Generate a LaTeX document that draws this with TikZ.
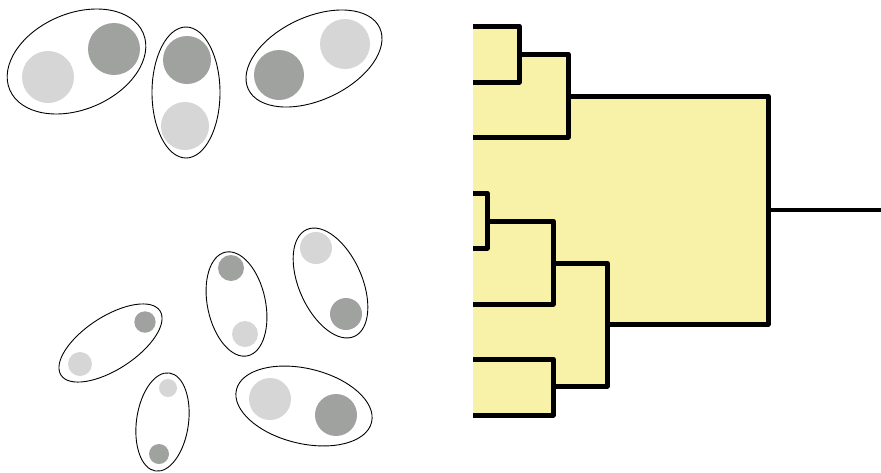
\documentclass[tikz,border=0pt]{standalone}
\usetikzlibrary{shapes.geometric}
\definecolor{darkblob}{RGB}{160,162,160}
\definecolor{lightblob}{RGB}{214,214,214}
\definecolor{treefill}{RGB}{247,242,168}

\begin{document}
\begin{tikzpicture}[x=1pt, y=-1pt,
      grp/.style = {draw, ellipse, inner sep=0pt, line width=0.9pt},
      dark/.style = {circle, fill=darkblob, inner sep=0pt, minimum size=#1pt},
      light/.style = {circle, fill=lightblob, inner sep=0pt, minimum size=#1pt},
      branch/.style = {line width=5pt, line join=round}]
    \useasboundingbox (0,0) rectangle (881,472);

    % clusters
    \node[grp, minimum width=145pt, minimum height=96pt, rotate=23] (ga) at (76.5,61.5) {};
    \node[grp, minimum width=68pt, minimum height=131pt] (gb) at (186,92.5) {};
    \node[grp, minimum width=145pt, minimum height=83pt, rotate=25] (gc) at (314,58.5) {};
    \node[grp, minimum width=118pt, minimum height=53pt, rotate=33] (gd) at (110.5,343) {};
    \node[grp, minimum width=99pt, minimum height=52pt, rotate=82] (ge) at (162.5,422) {};
    \node[grp, minimum width=106pt, minimum height=58pt, rotate=102] (gf) at (236.5,304) {};
    \node[grp, minimum width=117pt, minimum height=63pt, rotate=114] (gg) at (330.5,283) {};
    \node[grp, minimum width=139pt, minimum height=75pt, rotate=-13.6] (gh) at (304,406) {};

    % points
    \node[dark=52] (a1) at (114,49) {};
    \node[light=52] (a2) at (48,77) {};
    \node[dark=48] (b1) at (187,60) {};
    \node[light=48] (b2) at (185,126) {};
    \node[dark=50] (c1) at (279,75) {};
    \node[light=50] (c2) at (345,44) {};
    \node[dark=21.4] (d1) at (145,322) {};
    \node[light=24] (d2) at (80,364) {};
    \node[light=18] (e1) at (168,388) {};
    \node[dark=20] (e2) at (159,454) {};
    \node[dark=26] (f1) at (231,268) {};
    \node[light=26] (f2) at (245,334) {};
    \node[light=32] (g1) at (316,248) {};
    \node[dark=32] (g2) at (346,314) {};
    \node[light=42] (h1) at (270,399) {};
    \node[dark=42] (h2) at (336,415) {};

    % leaves and merges
    \coordinate (l1) at (473,26);
    \coordinate (l2) at (473,82);
    \coordinate (l3) at (473,137);
    \coordinate (l4) at (473,193);
    \coordinate (l5) at (473,248);
    \coordinate (l6) at (473,304);
    \coordinate (l7) at (473,359);
    \coordinate (l8) at (473,415);
    \coordinate (m1) at (519,54);
    \coordinate (m2) at (568,96);
    \coordinate (m3) at (487,221);
    \coordinate (m4) at (553,263);
    \coordinate (m5) at (553,386);
    \coordinate (m6) at (607,324);
    \coordinate (root) at (768,210);
    \coordinate (top) at (881,210);

    % dendrogram
    \fill[treefill] (l1) -| (m1) -| (m2) -| (root) |- (m6) |- (m5) |- (l8) -- cycle;
    \draw[branch] (l1) -| (m1) |- (l2);
    \draw[branch] (m1) -| (m2) |- (l3);
    \draw[branch] (l4) -| (m3) |- (l5);
    \draw[branch] (m3) -| (m4) |- (l6);
    \draw[branch] (l7) -| (m5) |- (l8);
    \draw[branch] (m4) -| (m6) |- (m5);
    \draw[branch] (m2) -| (root) |- (m6);
    \draw[branch, line width=4.3pt] (root) -- (top);
\end{tikzpicture}
\end{document}
